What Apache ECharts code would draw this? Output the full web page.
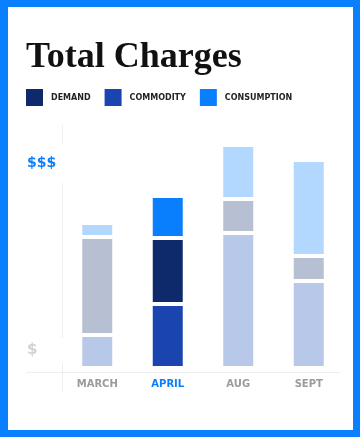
<!DOCTYPE html>
<html>
<head>
<meta charset="utf-8">
<script src="https://cdn.jsdelivr.net/npm/echarts@6/dist/echarts.min.js"></script>
<style>
html,body{margin:0;padding:0;background:#fff;}
#chart{width:360px;height:437px;}
</style>
</head>
<body>
<div id="chart"></div>
<script>
// ---- data ----
var categories = ['MARCH', 'APRIL', 'AUG', 'SEPT'];
var commodity   = [16.5, 32, 67.5, 43.5];
var demand      = [49, 33, 17, 12.5];
var consumption = [7, 21, 27, 48];
var legendNames = ['DEMAND', 'COMMODITY', 'CONSUMPTION'];
var highlighted = 'APRIL';

// ---- styles ----
var fullColors  = { COMMODITY: '#1a44b0', DEMAND: '#0f2a6b', CONSUMPTION: '#0a7ffd' };
var mutedColors = { COMMODITY: '#b8c8e8', DEMAND: '#b7bfd3', CONSUMPTION: '#b3d8ff' };
var FRAME = '#0a80ff';
var LINE = '#eeeeee';

function buildData(name, values) {
  return values.map(function (v, i) {
    return {
      value: v,
      itemStyle: { color: categories[i] === highlighted ? fullColors[name] : mutedColors[name] }
    };
  });
}

function makeSeries(name, values) {
  return {
    name: name,
    type: 'bar',
    stack: 'total',
    barWidth: 34,
    itemStyle: { color: fullColors[name], borderColor: '#fff', borderWidth: 2 },
    emphasis: { disabled: true },
    data: buildData(name, values)
  };
}

var chart = echarts.init(document.getElementById('chart'), null, { renderer: 'canvas' });
chart.setOption({
  animation: false,
  backgroundColor: FRAME,
  title: {
    text: 'Total Charges',
    left: 26,
    top: 40,
    padding: 0,
    textStyle: { fontFamily: 'Liberation Serif', fontWeight: 'bold', fontSize: 36, color: '#111' }
  },
  legend: {
    data: legendNames,
    left: 26,
    top: 89,
    padding: 0,
    icon: 'rect',
    itemWidth: 17,
    itemHeight: 17,
    itemGap: 14,
    itemStyle: { borderWidth: 0 },
    selectedMode: false,
    textStyle: { fontFamily: 'DejaVu Sans', fontWeight: 'bold', fontSize: 8, color: '#222', padding: [0, 0, 0, 3] }
  },
  grid: { left: 62, right: 16, top: 128, bottom: 69, containLabel: false },
  xAxis: {
    type: 'category',
    data: categories,
    axisLine: { show: false },
    axisTick: { show: false },
    axisLabel: {
      margin: 11,
      fontFamily: 'DejaVu Sans',
      fontWeight: 'bold',
      fontSize: 10,
      color: function (v) { return v === highlighted ? '#0a7ffd' : '#9b9b9b'; }
    }
  },
  yAxis: {
    type: 'value',
    min: 0,
    max: 120,
    show: false
  },
  graphic: [
    { type: 'rect', z: -10, silent: true, shape: { x: 8, y: 7, width: 345, height: 423 }, style: { fill: '#fff' } },
    { type: 'line', z: -5, silent: true, shape: { x1: 62.5, y1: 125, x2: 62.5, y2: 144 }, style: { stroke: LINE, lineWidth: 1 } },
    { type: 'line', z: -5, silent: true, shape: { x1: 62.5, y1: 183, x2: 62.5, y2: 338 }, style: { stroke: LINE, lineWidth: 1 } },
    { type: 'line', z: -5, silent: true, shape: { x1: 62.5, y1: 363, x2: 62.5, y2: 392 }, style: { stroke: LINE, lineWidth: 1 } },
    { type: 'line', z: -5, silent: true, shape: { x1: 26, y1: 372.5, x2: 340, y2: 372.5 }, style: { stroke: LINE, lineWidth: 1 } },
    { type: 'text', z: 5, left: 27, top: 156, style: { text: '$$$', fill: '#0a7ffd', font: 'bold 14px "DejaVu Sans"' } },
    { type: 'text', z: 5, left: 27, top: 343, style: { text: '$', fill: '#d2d2d2', font: 'bold 15px "DejaVu Sans"' } }
  ],
  series: [
    makeSeries('COMMODITY', commodity),
    makeSeries('DEMAND', demand),
    makeSeries('CONSUMPTION', consumption)
  ]
});
</script>
</body>
</html>
